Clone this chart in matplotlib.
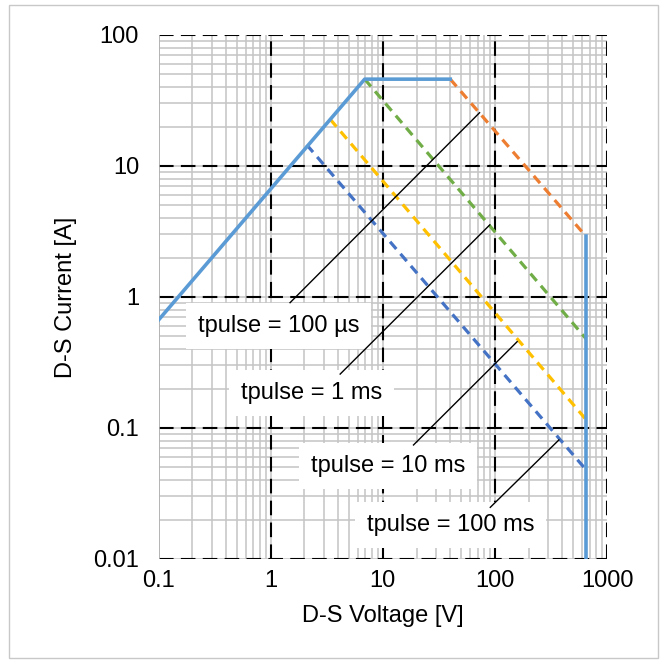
import matplotlib.pyplot as plt
from matplotlib.patches import Rectangle
import numpy as np

plt.rcParams['font.family'] = ['Liberation Sans', 'DejaVu Sans']

# safe operating area boundary (solid): rising + flat part, then vertical at max voltage
limit_v = [0.1, 6.9, 40]
limit_i = [0.667, 46, 46]
vmax_v = [650, 650]
vmax_i = [2.9, 0.01]

# pulse lines (dashed)
p100us_v = [40, 650]
p100us_i = [46, 2.9]
p1ms_v = [6.9, 650]
p1ms_i = [46, 0.48]
p10ms_v = [3.4, 650]
p10ms_i = [22.7, 0.116]
p100ms_v = [2.1, 650]
p100ms_i = [14.5, 0.048]

labels = ["tpulse = 100 µs", "tpulse = 1 ms", "tpulse = 10 ms", "tpulse = 100 ms"]
label_pos = [(1.17, 0.60), (2.30, 0.185), (11.2, 0.0513), (40.1, 0.0182)]
leader_start = [(1.49, 0.905), (4.17, 0.258), (18.8, 0.0742), (91, 0.0248)]
leader_end = [(73, 25.5), (90, 3.55), (158, 0.456), (372, 0.081)]

xticks = [0.1, 1, 10, 100, 1000]
xticklabels = ["0.1", "1", "10", "100", "1000"]
yticks = [0.01, 0.1, 1, 10, 100]
yticklabels = ["0.01", "0.1", "1", "10", "100"]

fig = plt.figure(figsize=(6.68, 6.65), dpi=100)
ax = fig.add_axes([0.2373, 0.1594, 0.6714, 0.788])
ax.set_xscale('log')
ax.set_yscale('log')
ax.set_xlim(0.1, 1000)
ax.set_ylim(0.01, 100)

# minor grid (gray) incl. decades
for d in [0.1, 1, 10, 100]:
	for k in range(1, 10):
		ax.axvline(d * k, color="#c4c4c4", lw=1.1, zorder=0)
for d in [0.01, 0.1, 1, 10]:
	for k in range(1, 10):
		ax.axhline(d * k, color="#c4c4c4", lw=1.1, zorder=0)
# major grid dashed
for v in [1, 10, 100, 1000]:
	ax.axvline(v, color="black", lw=1.5, ls=(0, (7, 3.5)), zorder=1)
for v in [0.01, 0.1, 1, 10, 100]:
	ax.axhline(v, color="black", lw=1.5, ls=(0, (7, 3.5)), zorder=1)
ax.axvline(0.1, color="#b0b0b0", lw=1.2, zorder=1)

dash = (0, (3, 2))
ax.plot(p100us_v, p100us_i, color="#ED7D31", lw=2.3, ls=dash, zorder=3)
ax.plot(p1ms_v, p1ms_i, color="#70AD47", lw=2.3, ls=dash, zorder=3)
ax.plot(p10ms_v, p10ms_i, color="#FFC000", lw=2.3, ls=dash, zorder=3)
ax.plot(p100ms_v, p100ms_i, color="#4472C4", lw=2.3, ls=dash, zorder=3)
ax.plot(limit_v, limit_i, color="#5B9BD5", lw=2.6, zorder=4)
ax.plot(vmax_v, vmax_i, color="#5B9BD5", lw=2.6, zorder=4)

for s, pos, a, b in zip(labels, label_pos, leader_start, leader_end):
	ax.text(pos[0], pos[1], s, fontsize=17, ha="center", va="center", zorder=5,
		bbox=dict(boxstyle="square,pad=0.5", fc="white", ec="none"))
	ax.plot([a[0], b[0]], [a[1], b[1]], color="black", lw=1, zorder=6)

for sp in ax.spines.values():
	sp.set_visible(False)

ax.set_xticks(xticks)
ax.set_xticklabels(xticklabels)
ax.set_yticks(yticks)
ax.set_yticklabels(yticklabels)
ax.minorticks_off()
ax.tick_params(length=0, labelsize=17)
ax.tick_params(axis='y', pad=14)
ax.tick_params(axis='x', pad=8)
ax.set_xlabel("D-S Voltage [V]", fontsize=17, labelpad=9)
ax.set_ylabel("D-S Current [A]", fontsize=17, labelpad=12)

fig.patches.append(Rectangle((9 / 668, 1 - 658 / 665), 649 / 668, 653 / 665,
	transform=fig.transFigure, fill=False, ec="#c8c8c8", lw=1))

plt.savefig("out.png", dpi=100)
